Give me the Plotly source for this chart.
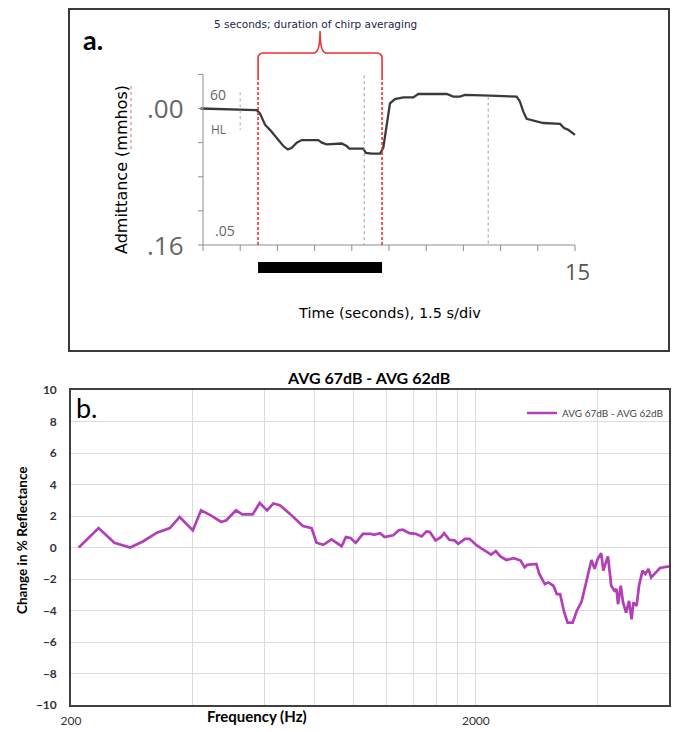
import math
import plotly.graph_objects as go

W, H = 676, 732

# ---------------- Panel a data (admittance recording) ----------------
time_s = [-0.1, 2.17, 2.30, 2.50, 2.70, 3.00, 3.24, 3.42, 3.58, 3.78, 3.98, 4.65, 4.79, 4.99,
          5.59, 5.79, 5.90, 6.46, 6.57, 6.80, 7.14, 7.27, 7.41, 7.54, 7.74, 8.08, 8.48, 8.68,
          9.83, 10.09, 10.36, 10.56, 11.57, 12.65, 12.78, 12.92, 13.05, 13.32, 13.72, 14.40,
          14.56, 14.73, 15.00]
admittance = [0.000, 0.002, 0.006, 0.019, 0.025, 0.035, 0.044, 0.048, 0.046, 0.040, 0.037, 0.037,
              0.040, 0.042, 0.041, 0.044, 0.047, 0.047, 0.052, 0.053, 0.053, 0.046, 0.017, -0.006,
              -0.011, -0.013, -0.013, -0.017, -0.017, -0.014, -0.014, -0.016, -0.015, -0.014,
              -0.008, 0.004, 0.012, 0.014, 0.017, 0.018, 0.023, 0.025, 0.031]
time_ticks = [0, 1.5, 3, 4.5, 6, 7.5, 9, 10.5, 12, 13.5, 15]
adm_ticks = [-0.04, 0.0, 0.04, 0.08, 0.12, 0.16]
chirp_start = 2.22
chirp_dur = 5.0
marker_times = [6.5, 11.5]

# ---------------- Panel b data (reflectance change) ----------------
freq_hz = [209, 234, 256, 280, 301, 326, 351, 371, 400, 419,
           443, 470, 484, 511, 530, 562, 585, 610, 632, 656,
           694, 748, 786, 808, 840, 880, 932, 955, 980, 1010,
           1052, 1100, 1120, 1160, 1190, 1250, 1290, 1320, 1370, 1420,
           1470, 1510, 1540, 1590, 1640, 1670, 1720, 1770, 1810, 1880,
           1930, 2010, 2120, 2180, 2240, 2300, 2380, 2480, 2580, 2640,
           2680, 2820, 2870, 2960, 3020, 3110, 3170, 3230, 3300, 3370,
           3470, 3550, 3650, 3720, 3790, 3860, 3930, 4000, 4080, 4130,
           4190, 4240, 4320, 4400, 4450, 4490, 4560, 4620, 4700, 4780,
           4850, 4900, 4990, 5060, 5160, 5240, 5340, 5420, 5570, 5700,
           6000]
delta_refl = [0.0, 1.23, 0.3, 0.0, 0.38, 0.94, 1.23, 1.94, 1.09, 2.36,
              2.04, 1.62, 1.73, 2.36, 2.1, 2.1, 2.83, 2.36, 2.79, 2.68,
              2.15, 1.36, 1.23, 0.3, 0.17, 0.51, 0.08, 0.66, 0.6, 0.3,
              0.87, 0.87, 0.81, 0.91, 0.66, 0.77, 1.1, 1.13, 0.91, 0.87,
              0.70, 1.02, 0.98, 0.45, 0.66, 0.91, 0.49, 0.45, 0.23, 0.55,
              0.55, 0.13, -0.25, -0.45, -0.23, -0.57, -0.79, -0.68, -0.83, -1.26,
              -1.1, -1.04, -1.68, -2.32, -2.22, -2.43, -2.96, -2.96, -4.03, -4.77,
              -4.77, -4.03, -3.43, -2.54, -1.47, -0.79, -1.36, -0.72, -0.36, -1.47,
              -0.94, -0.57, -2.43, -2.75, -2.64, -3.6, -2.43, -3.49, -4.13, -3.39,
              -4.56, -3.49, -3.71, -2.43, -1.47, -1.68, -1.36, -1.9, -1.58, -1.3,
              -1.2]
freq_grid = [200, 400, 600, 800, 1000, 1200, 1400, 1600, 1800, 2000, 4000, 6000]
freq_labels = ["200", "", "", "", "", "", "", "", "", "2000", "", ""]
y_ticks = [-10, -8, -6, -4, -2, 0, 2, 4, 6, 8, 10]
series_name = "AVG 67dB - AVG 62dB"


def P(x, y):
    return x / W, 1 - y / H


# panel a calibration (pixels): t=0 -> 203, t=15 -> 575 ; adm 0 -> 108.5, 0.16 -> 245
A_BOX = (70, 10, 668, 350)
pxs = (575 - 203) / 15.0
pya = (245 - 108.5) / 0.16
ax_range_x = [(A_BOX[0] - 203) / pxs, (A_BOX[2] - 203) / pxs]
ax_range_y = [(A_BOX[3] - 108.5) / pya, (A_BOX[1] - 108.5) / pya]

B_BOX = (71, 390, 669, 705)

fig = go.Figure()

fig.add_trace(go.Scatter(x=time_s, y=admittance, mode="lines", xaxis="x", yaxis="y",
                         line=dict(color="#3a3a3a", width=2.3), showlegend=False,
                         hoverinfo="skip"))

fig.add_trace(go.Scatter(x=freq_hz, y=delta_refl, mode="lines", xaxis="x2", yaxis="y2",
                         name=series_name, line=dict(color="#B23FB8", width=2.7)))

shapes = []
gray = "#8c8c8c"
# panel a axis lines
shapes.append(dict(type="line", xref="x", yref="y", x0=0, x1=0, y0=adm_ticks[0], y1=adm_ticks[-1],
                   line=dict(color=gray, width=1)))
shapes.append(dict(type="line", xref="x", yref="y", x0=time_ticks[0], x1=time_ticks[-1],
                   y0=adm_ticks[-1], y1=adm_ticks[-1], line=dict(color=gray, width=1)))
for a in adm_ticks:
    shapes.append(dict(type="line", xref="x", yref="y", x0=-5 / pxs, x1=0, y0=a, y1=a,
                       line=dict(color=gray, width=1)))
for t in time_ticks:
    shapes.append(dict(type="line", xref="x", yref="y", x0=t, x1=t, y0=adm_ticks[-1],
                       y1=adm_ticks[-1] + 6 / pya, line=dict(color=gray, width=1)))
# dotted marker lines
shapes.append(dict(type="line", xref="x", yref="y", x0=marker_times[0], x1=marker_times[0],
                   y0=-0.039, y1=0.16, line=dict(color="#9a9a9a", width=1, dash="dot")))
shapes.append(dict(type="line", xref="x", yref="y", x0=marker_times[1], x1=marker_times[1],
                   y0=-0.014, y1=0.16, line=dict(color="#9a9a9a", width=1, dash="dot")))
shapes.append(dict(type="line", xref="x", yref="y", x0=1.5, x1=1.5,
                   y0=-0.019, y1=0.025, line=dict(color="#aaaaaa", width=1, dash="dot")))
# red dashed lines for chirp window
t0, t1 = chirp_start, chirp_start + chirp_dur
for t in (t0, t1):
    shapes.append(dict(type="line", xref="x", yref="y", x0=t, x1=t, y0=-0.037, y1=0.16,
                       line=dict(color="#ee3030", width=1.6, dash="3px,2px")))
# curly bracket
tm = (t0 + t1) / 2
yb = (53 - 108.5) / pya
yl = (77 - 108.5) / pya
yp = (31 - 108.5) / pya
r = 0.25
path = (f"M {t0},{yl} L {t0},{yb + 0.006} Q {t0},{yb} {t0 + r},{yb} "
        f"L {tm - r},{yb} Q {tm},{yb} {tm},{yp} Q {tm},{yb} {tm + r},{yb} "
        f"L {t1 - r},{yb} Q {t1},{yb} {t1},{yb + 0.006} L {t1},{yl}")
shapes.append(dict(type="path", xref="x", yref="y", path=path,
                   line=dict(color="#ee3030", width=1.6)))
# black bar (chirp averaging duration)
shapes.append(dict(type="rect", xref="x", yref="y", x0=t0, x1=t1,
                   y0=(262 - 108.5) / pya, y1=(273 - 108.5) / pya,
                   fillcolor="black", line=dict(width=0)))
# red spell-check underline
x_, y_ = P(131, 86)
x2_, y2_ = P(131, 150)
shapes.append(dict(type="line", xref="paper", yref="paper", x0=x_, x1=x2_, y0=y_, y1=y2_,
                   line=dict(color="#ee6666", width=1, dash="dot")))

annotations = []


def ann(text, x, y, size, color="black", family="Lato", weight="normal", angle=0,
        xanchor="center"):
    ax_, ay_ = P(x, y)
    annotations.append(dict(text=text, x=ax_, y=ay_, xref="paper", yref="paper",
                            showarrow=False, textangle=angle, xanchor=xanchor,
                            yanchor="middle",
                            font=dict(size=size, color=color, family=family, weight=weight)))


# panel a text
ann("a.", 93, 39, 27, weight="bold")
ann("5 seconds; duration of chirp averaging", 315, 24, 10.5, color="#23234a",
    family="DejaVu Sans")
ann("Admittance (mmhos)", 121, 170, 16, family="DejaVu Sans", angle=-90)
ann(".00", 186, 108, 26, color="#666666", family="Open Sans", xanchor="right")
ann(".16", 186, 245, 26, color="#666666", family="Open Sans", xanchor="right")
ann("60", 218, 95, 14, color="#666666", family="Open Sans")
ann("HL", 218, 130, 12, color="#666666", family="Open Sans")
ann(".05", 225, 230, 14, color="#666666", family="Open Sans")
ann("15", 577, 271, 22, color="#555555", family="Open Sans")
ann("Time (seconds), 1.5 s/div", 389, 313, 14.5, family="DejaVu Sans")

# panel b text
ann("AVG 67dB - AVG 62dB", 368, 377, 16, weight="bold")
ann("b.", 87, 407, 27)
ann("Frequency (Hz)", 257, 716, 15, weight="bold")
ann("Change in % Reflectance", 22, 540, 13.5, weight="bold", angle=-90)

fig.update_layout(
    width=W, height=H, margin=dict(l=0, r=0, t=0, b=0, autoexpand=False),
    paper_bgcolor="white", plot_bgcolor="white",
    font=dict(family="Lato", color="#333333"),
    showlegend=True,
    legend=dict(x=669 / W, xanchor="right", y=1 - 413 / H, yanchor="middle",
                bgcolor="rgba(0,0,0,0)", font=dict(size=10, color="#444444", family="Lato"),
                itemwidth=30),
    xaxis=dict(domain=[A_BOX[0] / W, A_BOX[2] / W], range=ax_range_x, showgrid=False,
               zeroline=False, showticklabels=False, showline=True, mirror=True,
               linecolor="#3a3a3a", linewidth=2, fixedrange=True, automargin=False),
    yaxis=dict(domain=[1 - A_BOX[3] / H, 1 - A_BOX[1] / H], range=ax_range_y, showgrid=False,
               zeroline=False, showticklabels=False, showline=True, mirror=True,
               linecolor="#3a3a3a", linewidth=2, fixedrange=True, automargin=False),
    xaxis2=dict(domain=[B_BOX[0] / W, B_BOX[2] / W], type="log",
                range=[math.log10(200), math.log10(6000)], anchor="y2",
                tickvals=freq_grid, ticktext=freq_labels, showgrid=True, gridcolor="#dcdcdc",
                gridwidth=1, zeroline=False, showline=True, mirror=True, linecolor="#404040",
                linewidth=1.6, ticks="", ticklabelstandoff=4, automargin=False,
                tickfont=dict(size=12, color="#333333", family="Lato")),
    yaxis2=dict(domain=[1 - B_BOX[3] / H, 1 - B_BOX[1] / H], range=[-10, 10], anchor="x2",
                tickvals=y_ticks, showgrid=True, gridcolor="#dcdcdc", gridwidth=1,
                zeroline=False, showline=True, mirror=True, linecolor="#404040", linewidth=1.6,
                ticks="", ticklabelstandoff=10, automargin=False,
                tickfont=dict(size=12, color="#333333", family="Lato", weight="bold")),
    shapes=shapes,
    annotations=annotations,
)

fig.write_html("out.html", config={"displayModeBar": False},
               post_script="document.body.style.margin='0';document.body.style.overflow='hidden';")
